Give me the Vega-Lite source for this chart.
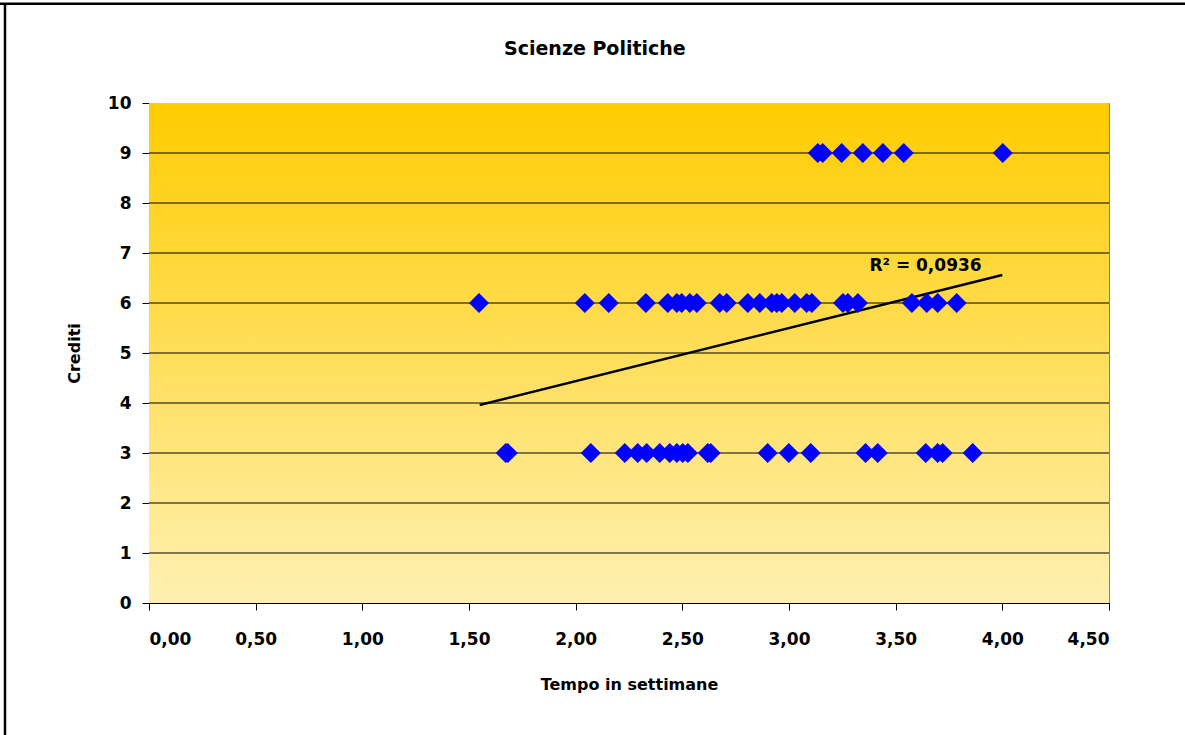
{
  "$schema": "https://vega.github.io/schema/vega-lite/v6.json",
  "width": 960,
  "height": 500,
  "autosize": {"type": "none"},
  "padding": {"left": 149, "top": 103, "right": 76, "bottom": 132},
  "background": "white",
  "config": {
    "locale": {"number": {"decimal": ",", "thousands": ".", "grouping": [3], "currency": ["€", ""]}},
    "view": {"stroke": "#808080", "strokeWidth": 1},
    "font": "DejaVu Sans"
  },
  "datasets": {
    "bg": [{"t": 0, "t2": 4.5, "c": 0, "c2": 10}],
    "grid": [
      {"t": 0, "t2": 4.5, "c": 1}, {"t": 0, "t2": 4.5, "c": 2}, {"t": 0, "t2": 4.5, "c": 3},
      {"t": 0, "t2": 4.5, "c": 4}, {"t": 0, "t2": 4.5, "c": 5}, {"t": 0, "t2": 4.5, "c": 6},
      {"t": 0, "t2": 4.5, "c": 7}, {"t": 0, "t2": 4.5, "c": 8}, {"t": 0, "t2": 4.5, "c": 9}
    ],
    "trend": [{"t": 1.55, "c": 3.96}, {"t": 4.0, "c": 6.56}],
    "label": [{"t": 3.64, "c": 6.74, "label": "R² = 0,0936"}],
    "heading": [{"t": 2.09, "c": 11.08, "label": "Scienze Politiche"}],
    "frame": [
      {"t": -0.7, "t2": 4.9, "c": 11.986, "c2": 11.986},
      {"t": -0.675, "t2": -0.675, "c": -3.5, "c2": 11.986}
    ],
    "points": [
      {"t": 3.135, "c": 9}, {"t": 3.158, "c": 9}, {"t": 3.247, "c": 9}, {"t": 3.346, "c": 9},
      {"t": 3.44, "c": 9}, {"t": 3.538, "c": 9}, {"t": 4.002, "c": 9},
      {"t": 1.547, "c": 6}, {"t": 2.043, "c": 6}, {"t": 2.155, "c": 6}, {"t": 2.329, "c": 6},
      {"t": 2.432, "c": 6}, {"t": 2.474, "c": 6}, {"t": 2.497, "c": 6}, {"t": 2.535, "c": 6},
      {"t": 2.568, "c": 6}, {"t": 2.675, "c": 6}, {"t": 2.708, "c": 6}, {"t": 2.807, "c": 6},
      {"t": 2.863, "c": 6}, {"t": 2.919, "c": 6}, {"t": 2.943, "c": 6}, {"t": 2.966, "c": 6},
      {"t": 3.027, "c": 6}, {"t": 3.083, "c": 6}, {"t": 3.107, "c": 6}, {"t": 3.253, "c": 6},
      {"t": 3.276, "c": 6}, {"t": 3.323, "c": 6}, {"t": 3.576, "c": 6}, {"t": 3.646, "c": 6},
      {"t": 3.697, "c": 6}, {"t": 3.786, "c": 6},
      {"t": 1.672, "c": 3}, {"t": 1.682, "c": 3}, {"t": 2.071, "c": 3}, {"t": 2.23, "c": 3},
      {"t": 2.291, "c": 3}, {"t": 2.333, "c": 3}, {"t": 2.394, "c": 3}, {"t": 2.441, "c": 3},
      {"t": 2.474, "c": 3}, {"t": 2.502, "c": 3}, {"t": 2.526, "c": 3}, {"t": 2.619, "c": 3},
      {"t": 2.633, "c": 3}, {"t": 2.9, "c": 3}, {"t": 2.999, "c": 3}, {"t": 3.102, "c": 3},
      {"t": 3.359, "c": 3}, {"t": 3.416, "c": 3}, {"t": 3.641, "c": 3}, {"t": 3.697, "c": 3},
      {"t": 3.72, "c": 3}, {"t": 3.861, "c": 3}
    ]
  },
  "encoding": {
    "x": {
      "field": "t",
      "type": "quantitative",
      "scale": {"domain": [0, 4.5], "nice": false, "zero": false},
      "axis": {
        "title": "Tempo in settimane",
        "values": [0, 0.5, 1, 1.5, 2, 2.5, 3, 3.5, 4, 4.5],
        "format": ".2f",
        "grid": false,
        "domainColor": "black",
        "domainWidth": 1,
        "tickColor": "black",
        "tickSize": 7,
        "labelFont": "DejaVu Sans",
        "labelFontSize": 17,
        "labelFontWeight": "bold",
        "labelColor": "black",
        "labelPadding": 21,
        "titleFont": "DejaVu Sans",
        "titleFontSize": 16,
        "titleFontWeight": "bold",
        "titleColor": "black",
        "titlePadding": 29
      }
    },
    "y": {
      "field": "c",
      "type": "quantitative",
      "scale": {"domain": [0, 10], "nice": false, "zero": false},
      "axis": {
        "title": "Crediti",
        "values": [0, 1, 2, 3, 4, 5, 6, 7, 8, 9, 10],
        "grid": false,
        "domainColor": "black",
        "domainWidth": 1,
        "tickColor": "black",
        "tickSize": 7,
        "labelFont": "DejaVu Sans",
        "labelFontSize": 17,
        "labelFontWeight": "bold",
        "labelColor": "black",
        "labelPadding": 11,
        "titleFont": "DejaVu Sans",
        "titleFontSize": 16,
        "titleFontWeight": "bold",
        "titleColor": "black",
        "titlePadding": 25
      }
    }
  },
  "layer": [
    {
      "data": {"name": "bg"},
      "mark": {
        "type": "rect",
        "fill": {
          "gradient": "linear",
          "x1": 0, "y1": 0, "x2": 0, "y2": 1,
          "stops": [
            {"offset": 0, "color": "#FFCC00"},
            {"offset": 1, "color": "#FFF0B2"}
          ]
        }
      },
      "encoding": {"x2": {"field": "t2"}, "y2": {"field": "c2"}}
    },
    {
      "data": {"name": "grid"},
      "mark": {"type": "rule", "color": "black", "strokeWidth": 1, "opacity": 1},
      "encoding": {"x2": {"field": "t2"}}
    },
    {
      "data": {"name": "trend"},
      "mark": {"type": "line", "color": "black", "strokeWidth": 2.5},
      "encoding": {}
    },
    {
      "data": {"name": "points"},
      "mark": {"type": "point", "shape": "diamond", "filled": true, "size": 400, "color": "#0000FF", "opacity": 1},
      "encoding": {}
    },
    {
      "data": {"name": "label"},
      "mark": {"type": "text", "font": "DejaVu Sans", "fontSize": 17, "fontWeight": "bold", "color": "black", "align": "center", "baseline": "middle"},
      "encoding": {"text": {"field": "label"}}
    },
    {
      "data": {"name": "heading"},
      "mark": {"type": "text", "font": "DejaVu Sans", "fontSize": 19, "fontWeight": "bold", "color": "black", "align": "center", "baseline": "middle"},
      "encoding": {"text": {"field": "label"}}
    },
    {
      "data": {"name": "frame"},
      "mark": {"type": "rule", "color": "black", "strokeWidth": 2.5},
      "encoding": {"x2": {"field": "t2"}, "y2": {"field": "c2"}}
    }
  ]
}
